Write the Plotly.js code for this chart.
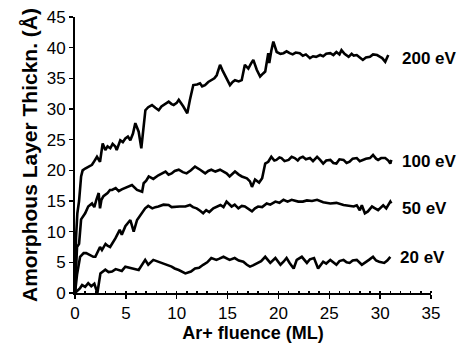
<!DOCTYPE html>
<html>
<head>
<meta charset="utf-8">
<script src="https://cdn.plot.ly/plotly-3.0.1.min.js"></script>
<style>html,body{margin:0;padding:0;background:#fff;}#chart{width:468px;height:343px;}</style>
</head>
<body>
<div id="chart"></div>
<script>
// 200 eV
const x200 = [0,0.1,0.23,0.4,0.6,0.75,1.0,1.3,1.67,1.9,2.16,2.46,2.72,2.98,3.2,3.47,3.7,3.96,4.1,4.45,4.7,4.95,5.2,5.44,5.7,5.93,6.26,6.52,6.92,7.2,7.57,7.9,8.23,8.5,8.72,9.0,9.21,9.5,9.7,10.0,10.2,10.65,11.04,11.3,11.63,12.0,12.29,12.5,12.78,13.1,13.44,13.7,13.93,14.26,14.5,14.75,15.0,15.24,15.5,15.73,16.1,16.39,16.7,17.04,17.3,17.53,17.87,18.2,18.5,18.7,19.0,19.1,19.3,19.5,19.83,20.2,20.5,20.8,21.1,21.4,21.7,22.1,22.4,22.7,23.1,23.4,23.7,24.1,24.4,24.7,25.1,25.4,25.7,26.0,26.2,26.5,26.9,27.2,27.4,27.7,28.0,28.3,28.6,29.0,29.3,29.7,30.0,30.2,30.5,30.8];
const y200 = [0,9,13,15,19,20.0,20.3,20.6,20.9,21.5,22.2,21.4,24.4,23.3,23.9,23.6,24.3,23.9,23.3,24.9,24.6,25.2,25.5,24.9,26.0,27.7,26.3,23.6,29.8,30.3,30.65,30.2,29.8,30.4,30.65,30.9,31.2,30.8,30.65,31.0,31.5,30.4,29.3,31.5,33.9,34.0,34.2,33.7,33.9,34.4,34.7,35.0,35.5,37.2,36.3,35.5,34.5,33.9,34.4,34.7,34.5,34.7,37.2,36.6,37.4,38.0,36.4,35.3,35.8,36.1,39.1,37.5,39.5,41.0,39.3,39.0,39.1,39.4,39.1,38.9,39.2,39.1,38.7,38.9,38.3,38.6,38.5,38.8,38.6,39.0,39.1,38.8,39.3,38.9,39.6,39.0,38.5,39.0,38.7,38.8,38.4,38.0,38.4,38.5,38.9,38.8,38.5,38.3,37.7,38.8];
// 100 eV
const x100 = [0,0.1,0.2,0.4,0.6,1.0,1.3,1.67,1.9,2.1,2.33,2.46,2.6,2.8,2.98,3.2,3.44,3.64,4.0,4.3,4.6,4.95,5.3,5.6,6.1,6.6,6.75,7.0,7.25,7.7,8.2,8.6,8.9,9.2,9.5,9.8,10.2,10.6,10.97,11.4,11.8,12.3,12.8,13.1,13.4,13.8,14.26,14.6,14.9,15.2,15.5,15.73,16.1,16.4,16.9,17.2,17.4,17.7,18.1,18.4,18.7,19.0,19.3,19.6,19.8,20.1,20.3,20.6,21.0,21.3,21.6,21.9,22.1,22.4,22.7,23.1,23.4,23.8,24.1,24.4,24.7,25.1,25.4,25.7,26.0,26.4,26.7,27.0,27.3,27.7,28.0,28.3,28.6,29.0,29.3,29.6,29.8,30.1,30.5,30.8,31.0,31.1];
const y100 = [0,5,7.5,8,12,13.0,14.1,14.6,14.0,15.2,16.3,13.8,15.2,15.8,16.0,16.3,16.8,16.8,17.1,16.6,16.9,17.1,17.4,17.6,16.8,16.5,17.9,18.3,19.0,18.6,19.2,19.5,19.8,19.3,19.5,19.9,20.1,19.7,19.5,20.0,20.6,20.1,19.5,19.9,20.1,19.8,20.1,19.8,19.5,19.0,19.5,19.8,19.3,19.0,18.7,18.2,17.3,18.5,18.0,18.7,21.1,21.4,22.2,21.6,21.7,22.1,22.0,21.5,21.7,22.2,22.0,21.6,22.0,22.2,21.8,22.0,21.5,22.2,21.7,21.1,21.6,21.7,21.2,21.1,21.8,21.7,21.2,21.4,21.9,22.0,21.5,21.7,21.9,22.0,22.5,21.9,21.7,22.0,22.0,21.6,21.1,21.7];
// 50 eV
const x50 = [0,0.2,0.5,0.85,1.1,1.3,1.8,2.0,2.46,2.65,3.0,3.2,3.45,3.97,4.4,4.6,4.95,5.44,5.77,6.1,6.6,6.9,7.2,7.6,7.9,8.2,8.7,9.2,9.5,9.9,10.3,10.85,11.3,11.6,11.96,12.3,12.6,12.9,13.2,13.6,14.0,14.3,14.6,14.9,15.4,15.7,16.06,16.4,16.7,17.0,17.4,17.7,18.0,18.4,18.85,19.2,19.7,20.1,20.5,20.9,21.3,21.95,22.4,22.8,23.3,23.8,24.4,25.1,25.7,26.4,27.0,27.4,27.7,28.0,28.2,28.5,28.8,29.2,29.5,29.8,30.3,30.6,31.0,31.1];
const y50 = [0,3,5.9,6.5,6.5,6.3,5.9,5.9,7.5,7.0,8.0,7.7,7.5,8.9,10.3,9.5,10.9,11.9,10.0,11.9,13.0,13.8,14.2,13.8,14.0,14.1,14.4,14.35,14.0,14.1,14.1,14.1,14.35,14.0,13.8,13.4,13.0,13.5,13.2,13.8,14.1,14.35,14.0,14.9,14.1,14.4,13.8,14.2,14.1,13.8,13.3,13.8,14.1,14.0,14.6,14.4,14.9,14.7,15.2,14.9,15.2,14.9,14.9,15.1,15.0,15.2,14.8,14.6,14.7,14.35,14.2,14.1,14.3,13.5,14.3,13.0,13.3,14.1,13.8,13.5,14.3,13.8,14.9,14.6];
// 20 eV
const x20 = [0,0.5,0.7,1.0,1.3,1.6,1.9,2.1,2.2,2.5,2.98,3.3,3.64,4.0,4.3,4.6,4.95,5.4,5.8,6.26,6.9,7.2,7.7,8.2,8.5,8.9,9.5,9.8,10.2,10.85,11.4,11.8,12.2,12.6,13.0,13.4,13.9,14.2,14.6,15.2,15.7,16.1,16.55,16.9,17.2,17.5,17.9,18.3,18.7,19.2,19.7,20.2,20.5,20.8,21.1,21.5,21.8,22.3,22.8,23.1,23.5,23.9,24.4,24.7,25.1,25.4,25.7,26.0,26.4,26.7,27.0,27.3,27.7,28.2,28.5,28.9,29.3,29.6,29.9,30.4,30.7,31.0];
const y20 = [0,0.8,1.3,1.0,1.6,1.1,1.5,0.3,0,3.2,3.8,3.4,3.5,3.9,3.8,3.6,4.3,4.1,3.9,3.75,5.4,4.6,5.4,5.1,4.8,4.6,4.3,4.0,3.75,3.2,3.5,4.0,4.1,4.6,5.0,5.7,5.4,5.6,5.9,5.4,5.7,5.3,5.1,4.6,4.3,4.5,4.9,5.2,5.9,4.9,5.7,4.6,5.1,5.7,4.9,4.0,5.4,5.9,4.9,5.5,5.7,4.0,5.1,4.8,5.4,5.0,4.6,5.2,5.4,5.0,4.9,5.3,5.4,4.6,5.0,5.4,5.9,5.3,5.1,4.9,5.3,5.9];

const seriesNames = ['200 eV','100 eV','50 eV','20 eV'];
const seriesX = [x200,x100,x50,x20];
const seriesY = [y200,y100,y50,y20];
const labelX = [32.0, 32.0, 32.0, 31.8];
const labelY = [38.2, 21.5, 13.8, 5.8];

const traces = seriesNames.map((n,i)=>({
  x: seriesX[i], y: seriesY[i], type:'scatter', mode:'lines', name:n,
  line:{color:'#000', width:2.6}, hoverinfo:'skip'
}));

const annotations = seriesNames.map((n,i)=>({
  x: labelX[i], y: labelY[i], xref:'x', yref:'y', text:'<b>'+n+'</b>',
  showarrow:false, xanchor:'left', yanchor:'middle',
  font:{family:'Liberation Sans, Arial, sans-serif', size:17, color:'#000'}
}));

const layout = {
  width:468, height:343,
  margin:{l:75, r:37, t:17, b:50},
  paper_bgcolor:'#fff', plot_bgcolor:'#fff',
  showlegend:false,
  font:{family:'Liberation Sans, Arial, sans-serif', size:16, color:'#000'},
  xaxis:{
    range:[0,35], dtick:5, tick0:0, showgrid:false, zeroline:false,
    showline:true, linecolor:'#000', linewidth:2,
    ticks:'outside', ticklen:4, tickwidth:1.5, tickcolor:'#000',
    tickfont:{size:17},
    minor:{dtick:1, ticks:'inside', ticklen:2, tickcolor:'#000'},
    title:{text:'<b>Ar+ fluence (ML)</b>', font:{size:18}, standoff:1}
  },
  yaxis:{
    range:[0,45], dtick:5, tick0:0, showgrid:false, zeroline:false,
    showline:true, linecolor:'#000', linewidth:2,
    ticks:'outside', ticklen:4, tickwidth:1.5, tickcolor:'#000',
    tickfont:{size:17},
    title:{text:'<b>Amorphous Layer Thickn. (Å)</b>', font:{size:21}, standoff:3}
  },
  annotations: annotations
};

Plotly.newPlot('chart', traces, layout, {staticPlot:true, displayModeBar:false});
</script>
</body>
</html>
